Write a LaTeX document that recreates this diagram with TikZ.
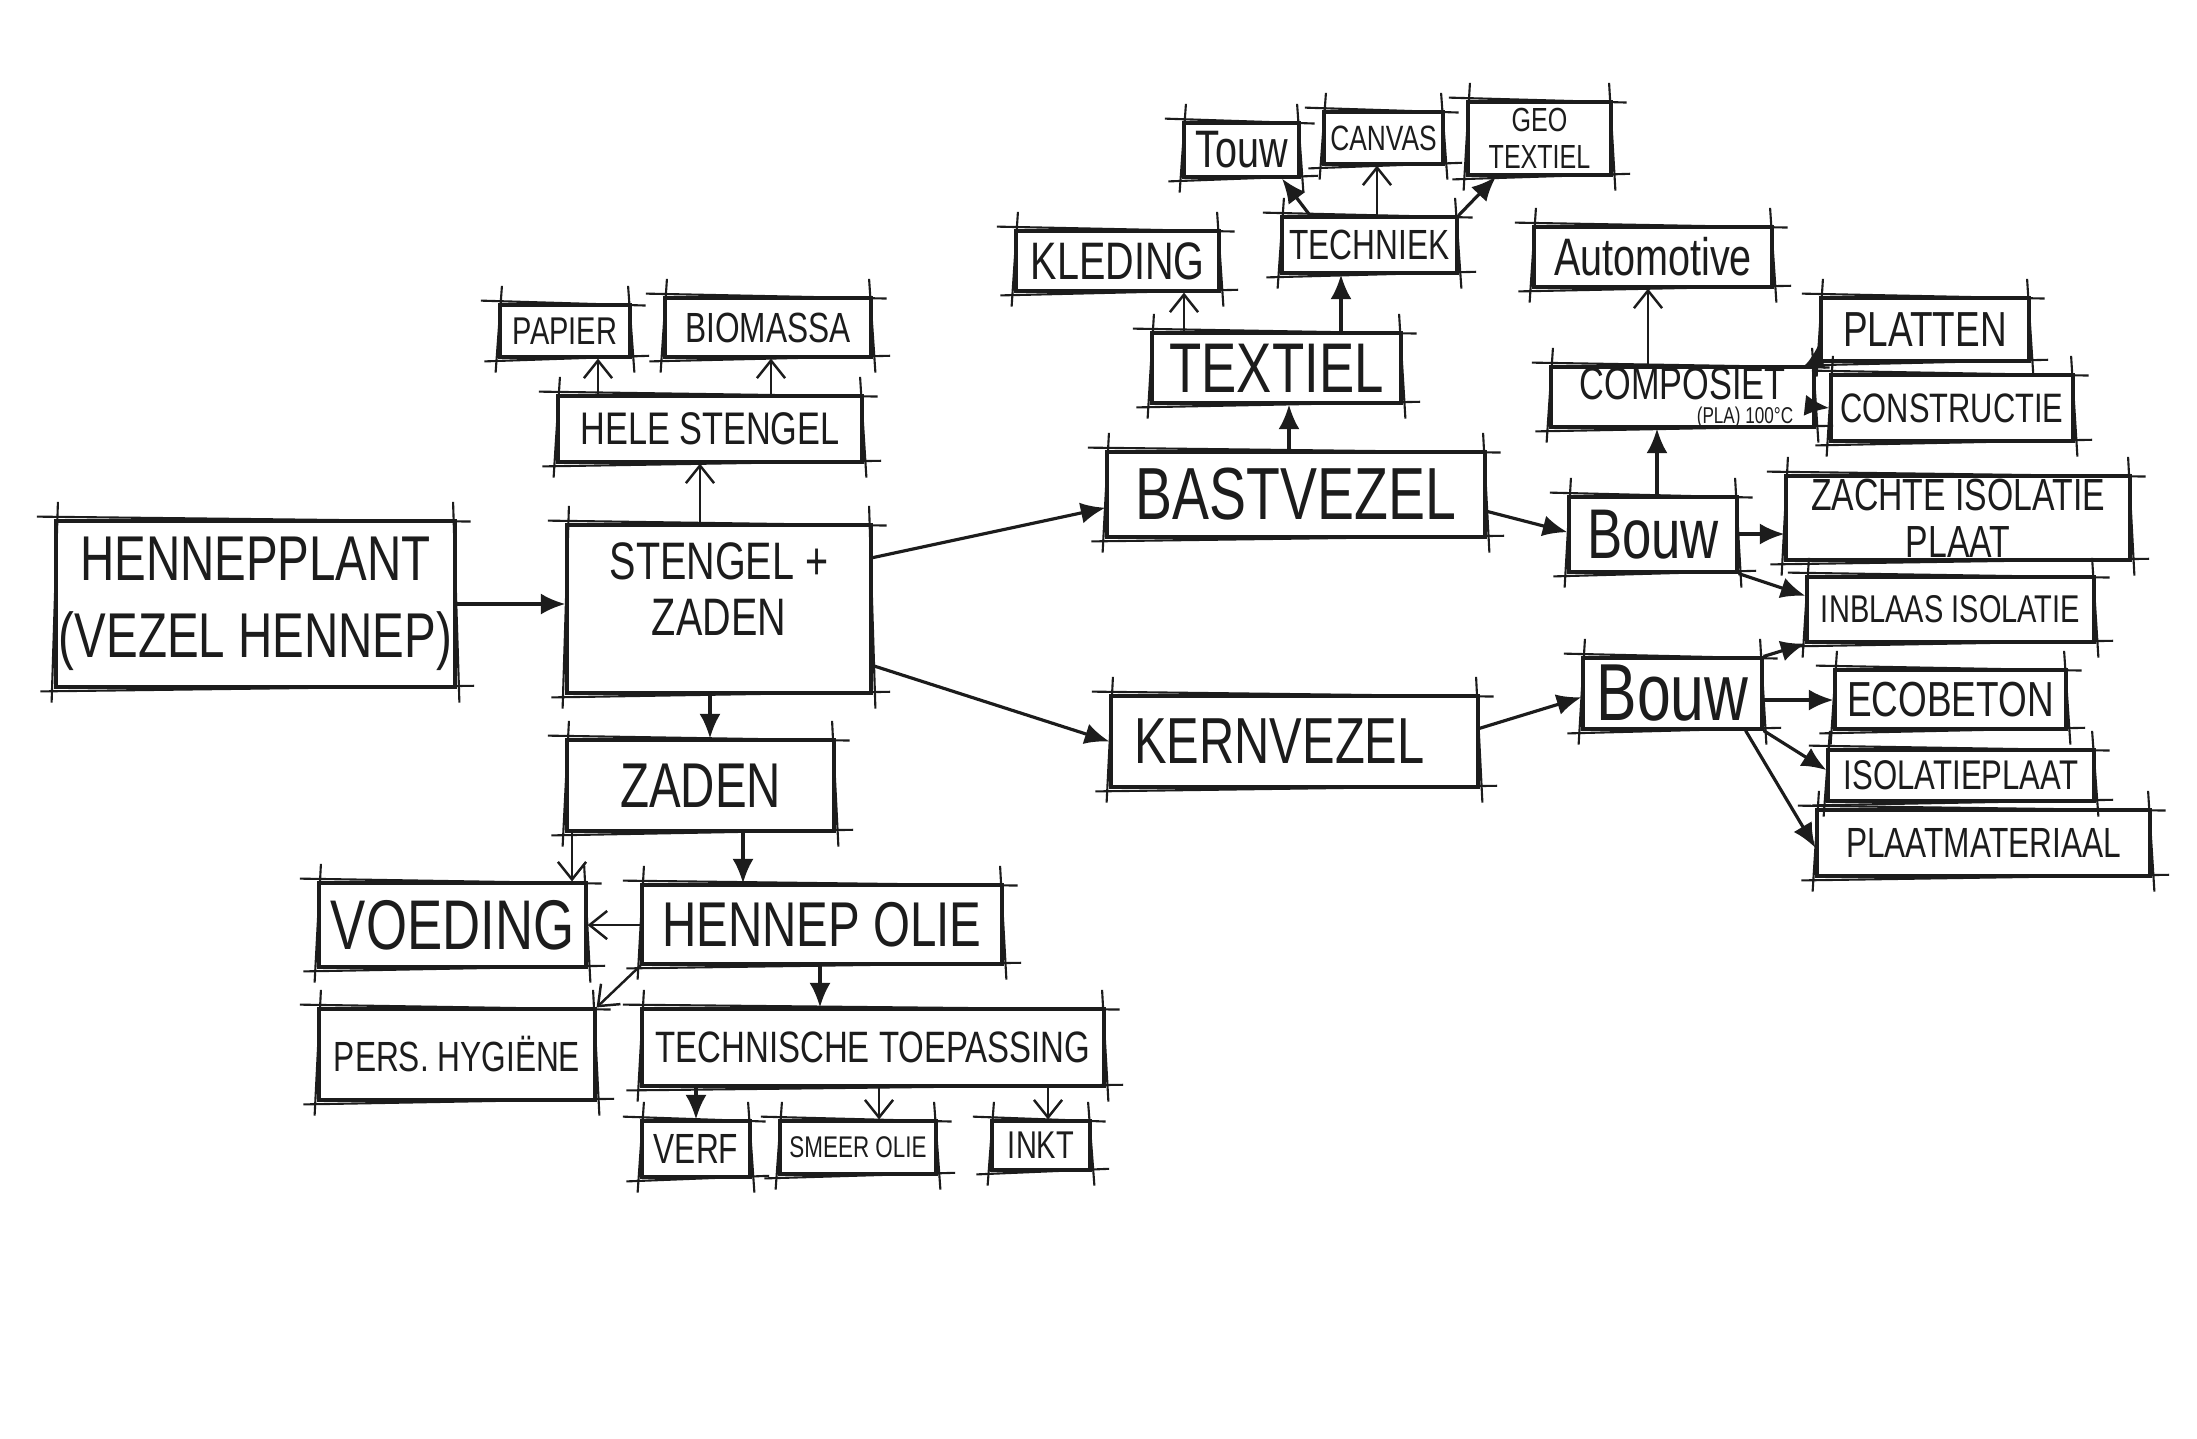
\documentclass[tikz,border=0pt]{standalone}
\usepackage{fontspec}
\usetikzlibrary{arrows.meta,fit,calc}
\newfontfamily\hand[FakeStretch=0.75]{Liberation Sans}
\definecolor{ink}{RGB}{28,28,28}
\newcommand\skbox[1]{%
 \draw[skl] ([xshift=-5pt,yshift=0.8pt]#1.north west) -- ([xshift=4pt,yshift=-0.6pt]#1.north east);
 \draw[skl] ([xshift=-4pt,yshift=-0.8pt]#1.south west) -- ([xshift=5pt,yshift=0.8pt]#1.south east);
 \draw[skl] ([xshift=1pt,yshift=5pt]#1.north west) -- ([xshift=-0.8pt,yshift=-4pt]#1.south west);
 \draw[skl] ([xshift=-1pt,yshift=5pt]#1.north east) -- ([xshift=0.8pt,yshift=-4pt]#1.south east);
}
% \bx[label options]{name}{x1}{y1}{x2}{y2}{font size}
\newcommand\bx[7][]{%
 \node[box, fit={(#3,#4)(#5,#6)}] (#2) {};
 \node[lbl, font={\hand\fontsize{#7}{#7}\selectfont}, #1] (#2t) at (#2.center) {\boxtext};
}
\tikzset{
 box/.style={draw=ink, line width=0.9pt, inner sep=0pt, rectangle},
 lbl/.style={text=ink, align=center, inner sep=0pt},
 skl/.style={draw=ink, line width=0.6pt},
 fa/.style={draw=ink, line width=0.9pt, -{Latex[length=7pt,width=6pt]}},
 oa/.style={draw=ink, line width=0.7pt, -{Straight Barb[length=5pt,width=8pt]}},
}
\newcommand\B[8][]{\def\boxtext{#8}\bx[#1]{#2}{#3}{#4}{#5}{#6}{#7}}
\begin{document}
\begin{tikzpicture}[x=0.01cm,y=-0.01cm]
\fill[white] (0,0) rectangle (2197,1438);
\useasboundingbox (0,0) rectangle (2197,1438);
% nodes
\B{hp}{56}{521}{455}{687}{18}{HENNEPPLANT\\[4pt](VEZEL HENNEP)}
\B[yshift=0.2cm]{st}{567}{525}{871}{693}{15}{STENGEL +\\[1pt]ZADEN}
\B{hele}{558}{396}{862}{462}{13}{HELE STENGEL}
\B{pap}{500}{305}{630}{357}{11}{PAPIER}
\B{bio}{665}{298}{871}{357}{12}{BIOMASSA}
\B{zad}{567}{740}{834}{831}{18}{ZADEN}
\B{voed}{319}{883}{586}{967}{20}{VOEDING}
\B{holie}{642}{885}{1002}{964}{18}{HENNEP OLIE}
\B{pers}{319}{1009}{595}{1100}{12}{PERS. HYGIËNE}
\B{tech}{642}{1009}{1104}{1086}{12.5}{TECHNISCHE TOEPASSING}
\B{verf}{642}{1121}{750}{1177}{12}{VERF}
\B{smeer}{780}{1121}{936}{1174}{8.5}{SMEER OLIE}
\B{inkt}{992}{1121}{1090}{1170}{11}{INKT}
\B{bast}{1107}{452}{1485}{537}{21}{BASTVEZEL}
\B[xshift=-0.15cm]{kern}{1111}{696}{1478}{787}{18.5}{KERNVEZEL}
\B{text}{1152}{333}{1401}{403}{20}{TEXTIEL}
\B{kled}{1016}{231}{1219}{291}{15}{KLEDING}
\B{techn}{1282}{217}{1457}{273}{12}{TECHNIEK}
\B{touw}{1184}{123}{1299}{177}{15}{Touw}
\B{canv}{1324}{112}{1443}{164}{10}{CANVAS}
\B{geo}{1468}{102}{1611}{175}{9.5}{GEO\\[1pt]TEXTIEL}
\B{auto}{1534}{227}{1772}{287}{15}{Automotive}
\B[yshift=0.13cm]{comp}{1551}{367}{1814}{427}{13}{COMPOSIET}
\node[text=ink, inner sep=0pt, font={\hand\fontsize{6.5}{6.5}\selectfont}] (complbl) at (1745,418) {(PLA) 100°C};
\B{plat}{1821}{298}{2029}{361}{14}{PLATTEN}
\B{cons}{1831}{375}{2073}{441}{11.7}{CONSTRUCTIE}
\B{bouw1}{1569}{497}{1737}{572}{20}{Bouw}
\B{zach}{1786}{476}{2130}{560}{12.8}{ZACHTE ISOLATIE\\[0.5pt]PLAAT}
\B{inbl}{1807}{577}{2094}{642}{11}{INBLAAS ISOLATIE}
\B{bouw2}{1583}{658}{1762}{729}{23}{Bouw}
\B{eco}{1835}{670}{2066}{729}{14}{ECOBETON}
\B{isol}{1828}{750}{2094}{801}{11.8}{ISOLATIEPLAAT}
\B{plm}{1817}{810}{2150}{876}{12}{PLAATMATERIAAL}
% sketchy overshoots
\foreach \n in {hp,st,hele,pap,bio,zad,voed,holie,pers,tech,verf,smeer,inkt,bast,kern,text,kled,techn,touw,canv,geo,auto,comp,plat,cons,bouw1,zach,inbl,bouw2,eco,isol,plm}{\skbox{\n}}
% connectors
\draw[fa] (hp.east) -- (st.west |- hp.east);
\draw[oa] (st.north -| 700,0) -- (hele.south -| 700,0);
\draw[oa] (hele.north -| 598,0) -- (pap.south -| 598,0);
\draw[oa] (hele.north -| 771,0) -- (bio.south -| 771,0);
\draw[fa] (st.south -| 710,0) -- (zad.north -| 710,0);
\draw[oa] (zad.south -| 572,0) -- (voed.north -| 572,0);
\draw[fa] (zad.south -| 743,0) -- (holie.north -| 743,0);
\draw[oa] (holie.west |- 0,925) -- (voed.east |- 0,925);
\draw[oa] (holie.south west) -- (pers.north east);
\draw[fa] (holie.south -| 820,0) -- (tech.north -| 820,0);
\draw[fa] (tech.south -| 696,0) -- (verf.north -| 696,0);
\draw[oa] (tech.south -| 879,0) -- (smeer.north -| 879,0);
\draw[oa] (tech.south -| 1048,0) -- (inkt.north -| 1048,0);
\draw[fa] ($(st.north east)!0.2!(st.south east)$) -- ($(bast.north west)!0.65!(bast.south west)$);
\draw[fa] ($(st.north east)!0.83!(st.south east)$) -- (kern.west);
\draw[fa] (bast.north -| 1289,0) -- (text.south -| 1289,0);
\draw[oa] (text.north -| 1184,0) -- (kled.south -| 1184,0);
\draw[fa] (text.north -| 1341,0) -- (techn.south -| 1341,0);
\draw[fa] (techn.north -| 1310,0) -- (touw.south -| 1282,0);
\draw[oa] (techn.north -| 1377,0) -- (canv.south -| 1377,0);
\draw[fa] (techn.north east) -- (geo.south -| 1496,0);
\draw[fa] ($(bast.north east)!0.69!(bast.south east)$) -- ($(bouw1.north west)!0.47!(bouw1.south west)$);
\draw[fa] (bouw1.north -| 1657,0) -- (comp.south -| 1657,0);
\draw[oa] (comp.north -| 1648,0) -- (auto.south -| 1648,0);
\draw[fa] (comp.north east) -- ($(plat.north west)!0.7!(plat.south west)$);
\draw[fa] ($(comp.north east)!0.65!(comp.south east)$) -- ($(cons.north west)!0.5!(cons.south west)$);
\draw[fa] (bouw1.east |- 0,534) -- (zach.west |- 0,534);
\draw[fa] (bouw1.south east) -- ($(inbl.north west)!0.3!(inbl.south west)$);
\draw[fa] ($(kern.north east)!0.36!(kern.south east)$) -- ($(bouw2.north west)!0.55!(bouw2.south west)$);
\draw[fa] (bouw2.north east) -- (inbl.south west);
\draw[fa] (bouw2.east |- 0,700) -- (eco.west |- 0,700);
\draw[fa] (bouw2.south east) -- ($(isol.north west)!0.4!(isol.south west)$);
\draw[fa] ([xshift=-0.18cm]bouw2.south east) -- ($(plm.north west)!0.57!(plm.south west)$);
\end{tikzpicture}
\end{document}
